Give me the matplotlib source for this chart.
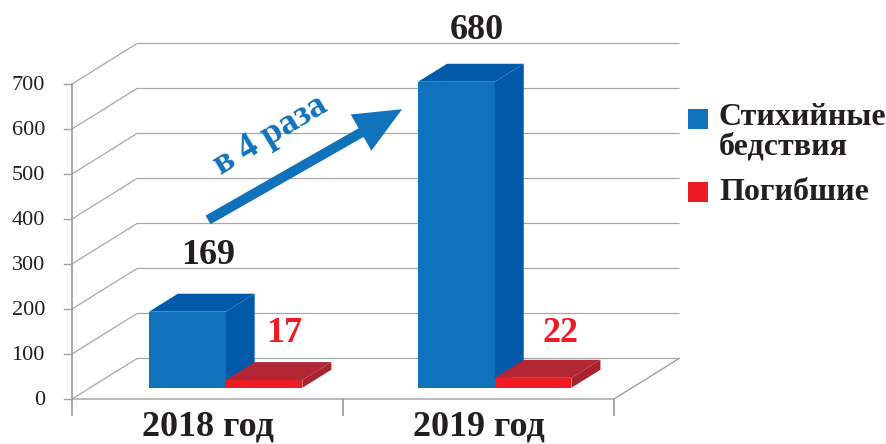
import matplotlib
matplotlib.use("Agg")
import matplotlib.pyplot as plt
from matplotlib.patches import Polygon, Rectangle

years = ["2018 год", "2019 год"]
disasters = [169, 680]
deaths = [17, 22]
yticks = [0, 100, 200, 300, 400, 500, 600, 700]
legend_names = ["Стихийные\nбедствия", "Погибшие"]

BLUE = "#1072bb"
BLUE_SIDE = "#015aa9"
RED = "#ed1c24"
RED_TOP = "#b32735"
RED_SIDE = "#a8232c"
DARK = "#231f20"

plt.rcParams["font.family"] = "Liberation Serif"

fig = plt.figure(figsize=(8.87, 4.44), dpi=100)
ax = fig.add_axes([72 / 887, 45 / 444, 542 / 887, 315 / 444])
ax.set_xlim(0, 2)
ax.set_ylim(0, 700)
ax.axis("off")

# глубина стенки и столбцов в единицах данных
wall_dx, wall_dy = 0.24, 90
bar_dx, bar_dy = 0.107, 40
bar_w = 0.283
base = 25  # столбцы стоят чуть выше переднего края пола
grid_col = "#a8a8a8"
axis_col = "#a0a0a0"


def box(x, h, face, top, side, z):
    y0, y1 = base, base + h
    ax.add_patch(Rectangle((x, y0), bar_w, h, fc=face, ec="none", zorder=z, clip_on=False))
    ax.add_patch(Polygon([(x, y1), (x + bar_dx, y1 + bar_dy), (x + bar_w + bar_dx, y1 + bar_dy), (x + bar_w, y1)],
                         fc=top, ec="none", zorder=z, clip_on=False))
    ax.add_patch(Polygon([(x + bar_w, y0), (x + bar_w + bar_dx, y0 + bar_dy), (x + bar_w + bar_dx, y1 + bar_dy), (x + bar_w, y1)],
                         fc=side, ec="none", zorder=z, clip_on=False))


# стенка и сетка
for v in yticks:
    ax.plot([0, wall_dx, 2 + wall_dx], [v, v + wall_dy, v + wall_dy], color=grid_col, lw=0.9, zorder=1, clip_on=False)
    ax.plot([-0.03, 0], [v, v], color=axis_col, lw=1.0, zorder=1, clip_on=False)
    ax.text(-0.1, v - 4, str(v), ha="right", va="center", fontsize=16, color=DARK, zorder=5)
ax.plot([0, 0], [0, 700], color=axis_col, lw=1.3, zorder=2, clip_on=False)
ax.plot([0, 2, 2 + wall_dx], [0, 0, wall_dy], color=axis_col, lw=1.0, zorder=2, clip_on=False)
for t in [0, 1, 2]:
    ax.plot([t, t], [-35, 0], color=axis_col, lw=1.3, zorder=2, clip_on=False)

for i, (a, b) in enumerate(zip(disasters, deaths)):
    x0 = 0.284 + i * 0.993
    box(x0, a, BLUE, BLUE_SIDE, BLUE_SIDE, 3)
    box(x0 + bar_w, b, RED, RED_TOP, RED_SIDE, 4)
    ax.text(x0 + bar_w / 2 + 0.075, a + (149 if i == 0 else 138), str(a), ha="center", va="center", fontsize=26,
            fontweight="bold", color=DARK, zorder=6)
    ax.text(x0 + bar_w * 1.5 + (0.076 if i == 0 else 0.102), b + (129 if i == 0 else 123), str(b), ha="center",
            va="center", fontsize=26, fontweight="bold", color=RED, zorder=6)
    ax.text(i + 0.5, -62, years[i], ha="center", va="center", fontsize=26, fontweight="bold", color=DARK)

# стрелка "в 4 раза"
ax.annotate("", xy=(1.218, 644), xytext=(0.502, 398),
            arrowprops=dict(arrowstyle="simple,head_length=3.4,head_width=3.0,tail_width=0.72",
                            mutation_scale=10, fc=BLUE, ec=BLUE, lw=0, shrinkA=0, shrinkB=0), zorder=6)
ax.text(0.734, 585, "в 4 раза", rotation=31, ha="center", va="center", fontsize=26, fontweight="bold",
        color=BLUE, zorder=6, rotation_mode="anchor")

# легенда
fig.patches.append(Rectangle((688 / 887, 1 - 129 / 444), 20 / 887, 20 / 444, transform=fig.transFigure, fc=BLUE, ec="none"))
fig.patches.append(Rectangle((688 / 887, 1 - 202 / 444), 20 / 887, 20 / 444, transform=fig.transFigure, fc=RED, ec="none"))
fig.text(719 / 887, 1 - 132 / 444, legend_names[0], ha="left", va="center", fontsize=23, fontweight="bold",
         color=DARK, linespacing=1.0)
fig.text(719 / 887, 1 - 192 / 444, legend_names[1], ha="left", va="center", fontsize=23, fontweight="bold",
         color=DARK)

fig.savefig("out.png", dpi=100)
